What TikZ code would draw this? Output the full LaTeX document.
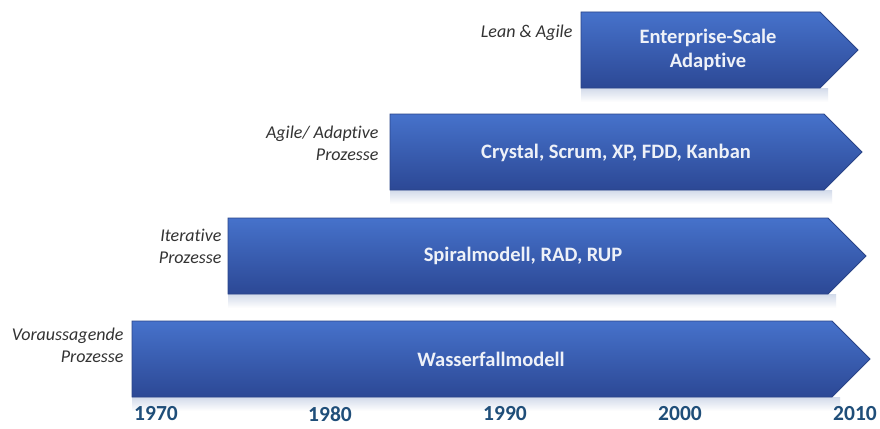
\documentclass[tikz,border=0pt]{standalone}
\usepackage{fontspec}
\setmainfont{Carlito}[Ligatures=NoCommon]
\usetikzlibrary{calc}
\definecolor{bartop}{HTML}{4672CB}
\definecolor{barbot}{HTML}{2C4895}
\definecolor{barline}{HTML}{2A4488}
\definecolor{bartextcol}{HTML}{EEF1F8}
\definecolor{yearblue}{HTML}{1F4E79}
\definecolor{labelgray}{HTML}{333333}
\definecolor{reflect}{HTML}{D2DAEA}
\tikzset{
  barfill/.style={top color=bartop, bottom color=barbot, draw=barline, line width=0.8pt, line join=miter},
  barglow/.style={top color=reflect, bottom color=white, draw=none},
  bartext/.style={text=bartextcol, font=\fontsize{20.5}{24}\selectfont\bfseries, align=center},
  phaselabel/.style={text=labelgray, font=\fontsize{18}{22}\selectfont\itshape, align=right, anchor=east},
  yearlabel/.style={text=yearblue, font=\fontsize{21.5}{24}\selectfont\bfseries},
}
% \phasebar{name}{left x}{top y}{bottom y}{tip x}
\newcommand\phasebar[5]{%
  \path[barglow] (#2,#4) rectangle (#5-30,#4+14);
  \path[barfill] (#2,#3) -- (#5-38,#3) -- (#5,{(#3+#4)/2}) -- (#5-38,#4) -- (#2,#4) -- cycle;
  \coordinate (#1-w) at (#2,{(#3+#4)/2});
}
\begin{document}
\begin{tikzpicture}[x=1pt,y=-1pt]
\useasboundingbox[fill=white] (0,0) rectangle (880,428);

\phasebar{lean}{581}{12}{88}{858}
\phasebar{agile}{390}{114}{190}{862}
\phasebar{iter}{228}{218}{294}{866}
\phasebar{pred}{132}{321}{397}{870}

\node[bartext] (leantext) at (708,50) {Enterprise-Scale\\Adaptive};
\node[bartext] (agiletext) at (616,153) {Crystal, Scrum, XP, FDD, Kanban};
\node[bartext] (itertext) at (523,256) {Spiralmodell, RAD, RUP};
\node[bartext] (predtext) at (491,359) {Wasserfallmodell};

\node[phaselabel] (leanlab) at (576,33) {Lean \& Agile};
\node[phaselabel] (agilelab) at (382,143) {Agile/ Adaptive\\Prozesse};
\node[phaselabel] (iterlab) at (225,246) {Iterative\\Prozesse};
\node[phaselabel] (predlab) at (127,345) {Voraussagende\\Prozesse};

\node[yearlabel] (y1970) at (156,414) {1970};
\node[yearlabel] (y1980) at (330,414) {1980};
\node[yearlabel] (y1990) at (505,414) {1990};
\node[yearlabel] (y2000) at (680,414) {2000};
\node[yearlabel] (y2010) at (855,414) {2010};
\end{tikzpicture}
\end{document}
